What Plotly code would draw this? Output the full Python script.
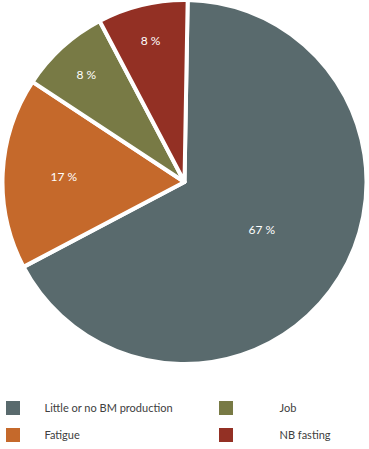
import plotly.graph_objects as go

labels = ["Little or no BM production", "Fatigue", "Job", "NB fasting"]
values = [67, 17, 8, 8]
colors = ["#596a6d", "#c5692b", "#787a45", "#933024"]

W, H = 369, 449

fig = go.Figure()
fig.add_trace(go.Pie(
    labels=labels, values=values, sort=False, direction="clockwise", rotation=1,
    marker=dict(colors=colors, line=dict(color="white", width=4)),
    texttemplate="%{value} %", textposition="inside", insidetextorientation="horizontal",
    textfont=dict(color="white", size=12, family="Lato"),
    showlegend=False, hoverinfo="label+value",
    domain=dict(x=[0, 1], y=[1 - 364 / H, 1 - 0 / H]),
))

# legend entries (one legend each for column-major layout)
legend_ids = ["legend", "legend3", "legend2", "legend4"]
for lab, col, lid in zip(labels, colors, legend_ids):
    fig.add_trace(go.Scatter(
        x=[None], y=[None], mode="markers", name=lab, legend=lid,
        marker=dict(symbol="square", size=14, color=col),
    ))

lfont = dict(family="Lato", size=11, color="#404040")
common = dict(font=lfont, bgcolor="rgba(0,0,0,0)", xanchor="left", yanchor="middle",
              orientation="v", itemclick=False)
fig.update_layout(
    width=W, height=H, margin=dict(l=0, r=0, t=0, b=0, autoexpand=False),
    paper_bgcolor="white", plot_bgcolor="white",
    xaxis=dict(visible=False), yaxis=dict(visible=False),
    legend=dict(x=-18.5 / W, y=1 - 408 / H, itemwidth=53, **common),
    legend3=dict(x=-18.5 / W, y=1 - 435 / H, itemwidth=53, **common),
    legend2=dict(x=172.5 / W, y=1 - 408 / H, itemwidth=97, **common),
    legend4=dict(x=172.5 / W, y=1 - 435 / H, itemwidth=97, **common),
)

fig.write_html("out.html", config={"displayModeBar": False},
               post_script="document.body.style.margin='0';")
